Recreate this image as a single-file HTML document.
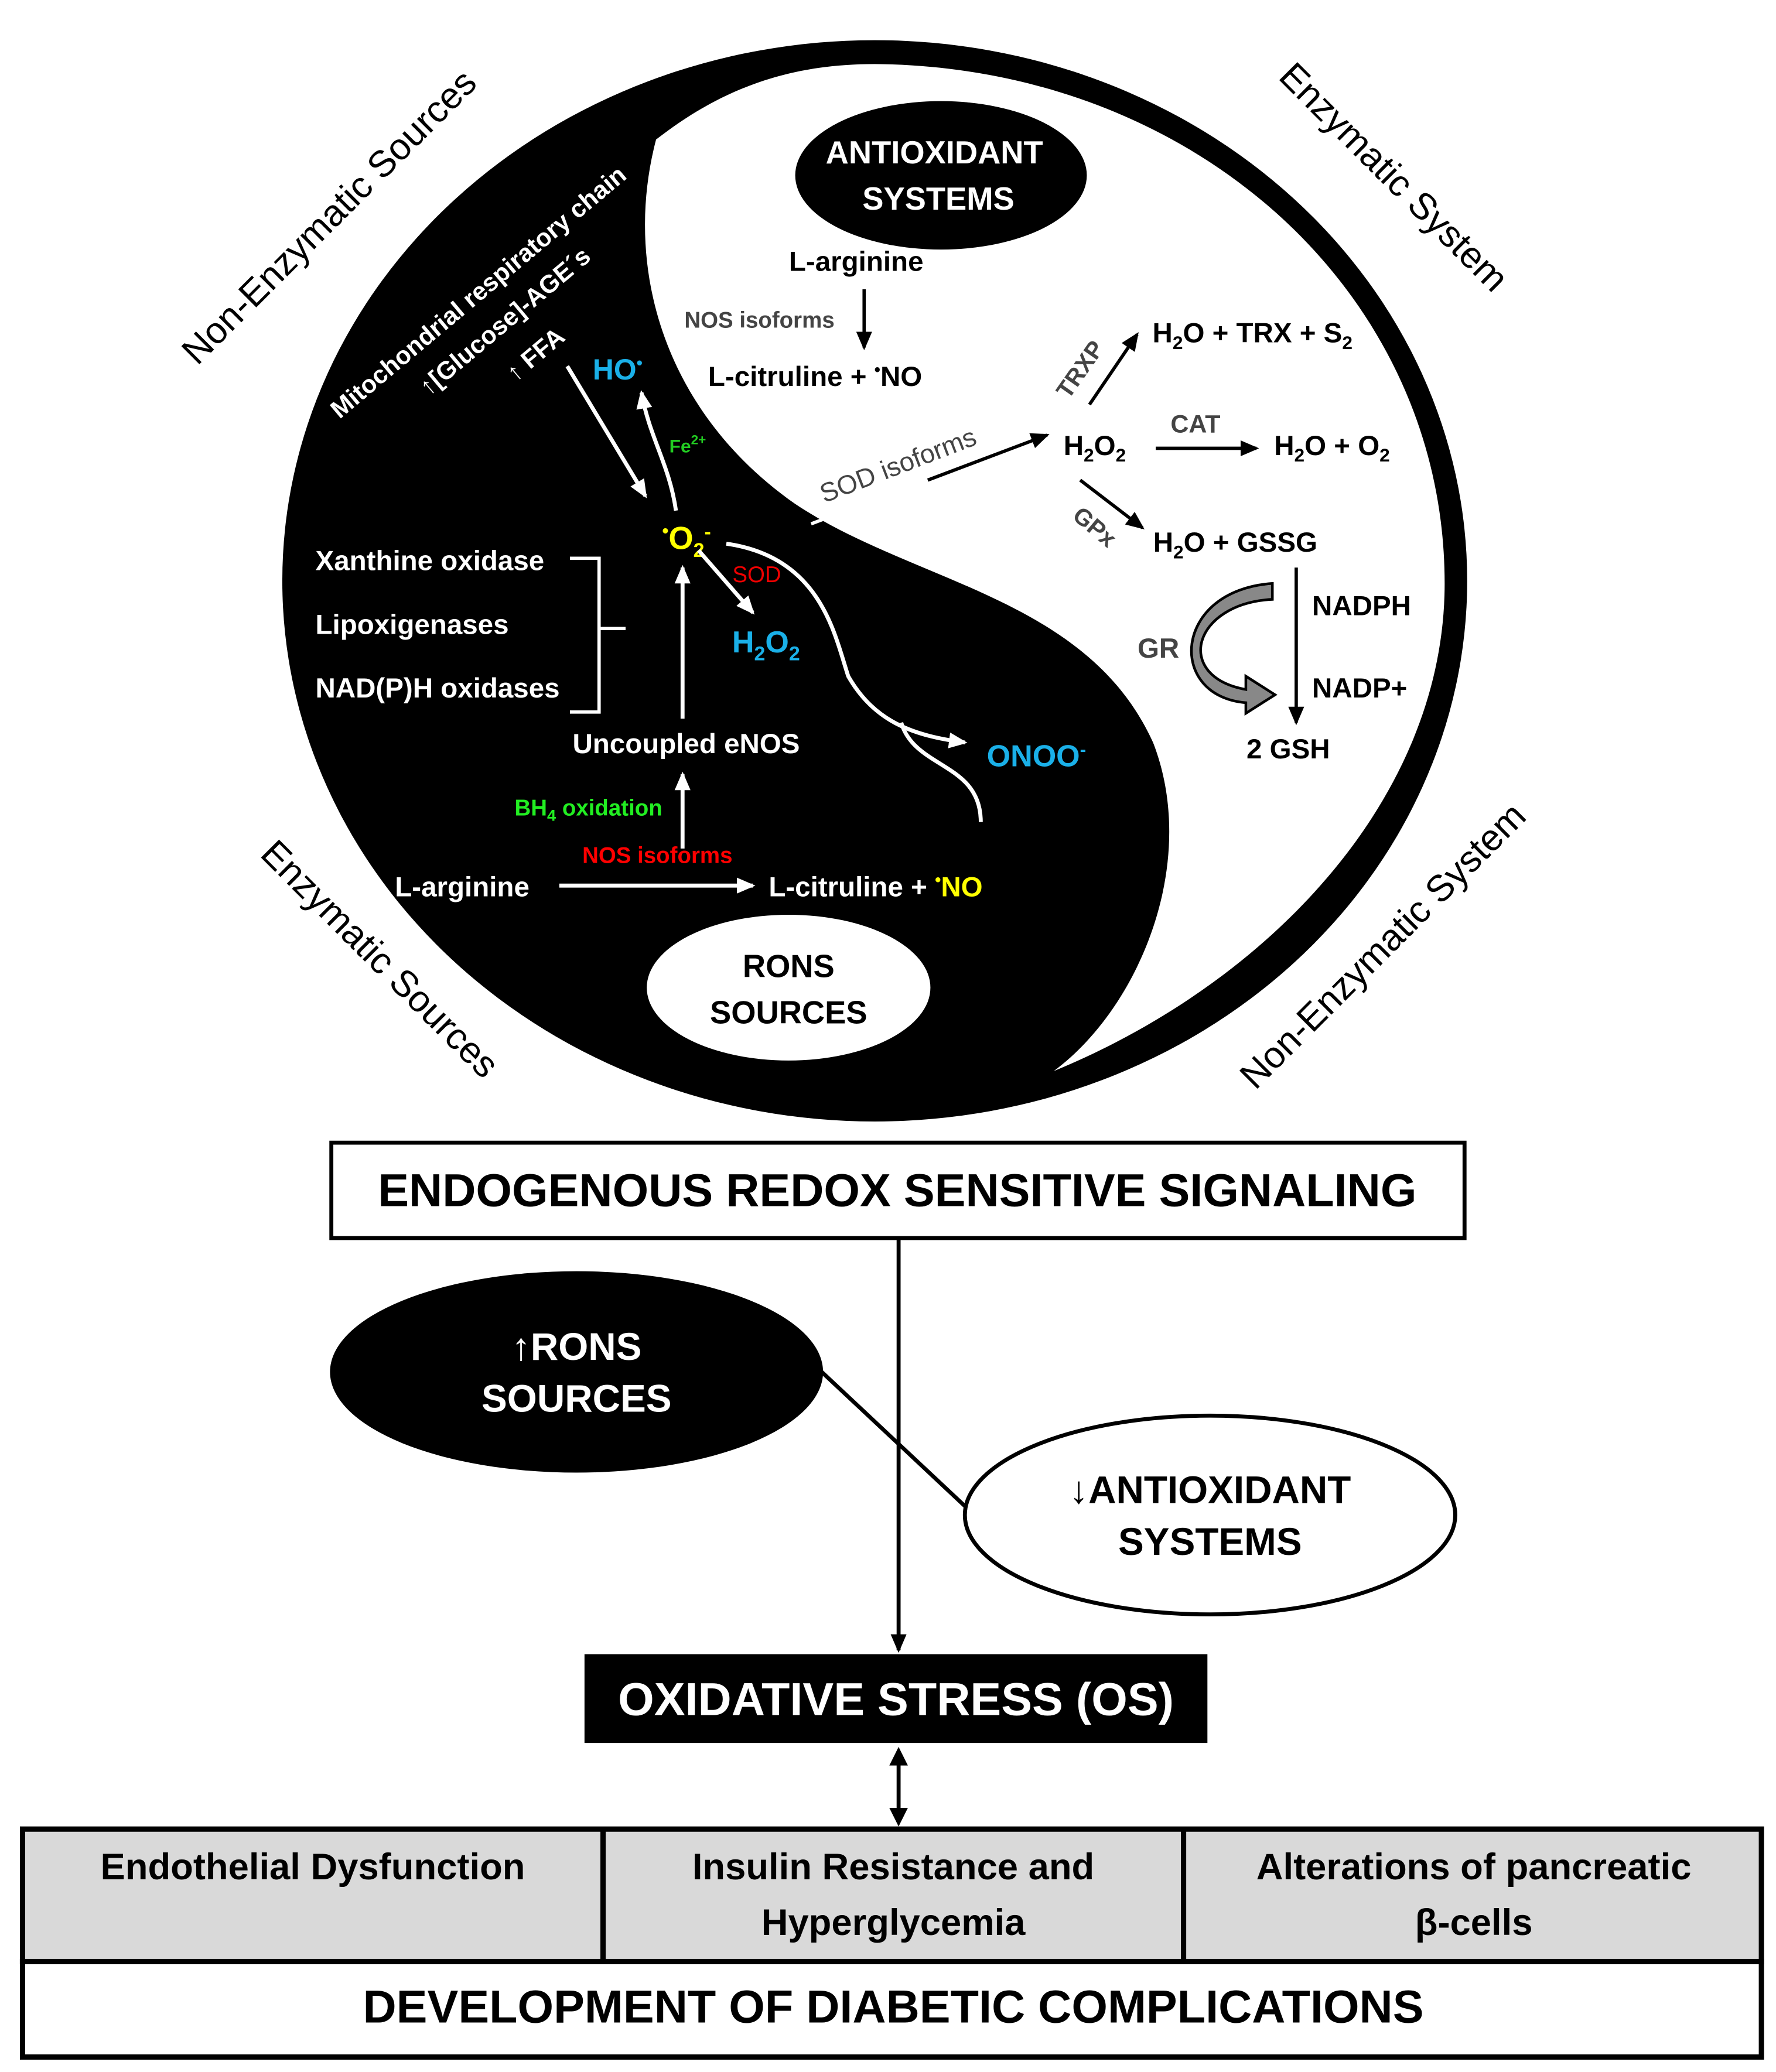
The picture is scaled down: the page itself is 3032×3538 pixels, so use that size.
<!DOCTYPE html>
<html><head><meta charset="utf-8"><style>
html,body{margin:0;padding:0;background:#fff;}
svg{display:block;}
text{font-family:"Liberation Sans",sans-serif;font-weight:bold;}
</style></head><body>
<svg width="3032" height="3538" viewBox="0 0 1340 1563" xmlns="http://www.w3.org/2000/svg">
<defs>
<marker id="ab" markerWidth="14" markerHeight="12" refX="12" refY="6" orient="auto" markerUnits="userSpaceOnUse"><path d="M0,0 L14,6 L0,12 Z" fill="#000"/></marker>
<marker id="aw2" markerWidth="14" markerHeight="12" refX="12" refY="6" orient="auto" markerUnits="userSpaceOnUse"><path d="M0,0 L14,6 L0,12 Z" fill="#fff"/></marker>
</defs>
<rect width="1340" height="1563" fill="#fff"/>
<!-- yin yang -->
<ellipse cx="660" cy="438" rx="447" ry="408" fill="#000"/>
<path d="M495,105 C470,200 500,310 600,380 C690,440 820,450 870,560 C905,650 860,760 795,808 C960,740 1090,600 1090,440 C1090,220 900,50 660,48 C590,48 540,70 495,105 Z" fill="#fff"/>

<!-- rotated outer labels -->
<g font-size="28">
<text x="255" y="170" text-anchor="middle" transform="rotate(-45 255 170)" style="font-weight:normal">Non-Enzymatic Sources</text>
<text x="1045" y="140" text-anchor="middle" transform="rotate(45 1045 140)" style="font-weight:normal">Enzymatic System</text>
<text x="280" y="730" text-anchor="middle" transform="rotate(45 280 730)" style="font-weight:normal">Enzymatic Sources</text>
<text x="1050" y="720" text-anchor="middle" transform="rotate(-45 1050 720)" style="font-weight:normal">Non-Enzymatic System</text>
</g>

<!-- Antioxidant ellipse -->
<ellipse cx="710" cy="132" rx="110" ry="56" fill="#000"/>
<text x="705" y="123" fill="#fff" font-size="24" text-anchor="middle">ANTIOXIDANT</text>
<text x="708" y="158" fill="#fff" font-size="24" text-anchor="middle">SYSTEMS</text>

<text x="646" y="204" font-size="21" text-anchor="middle">L-arginine</text>
<line x1="652" y1="218" x2="652" y2="262" stroke="#000" stroke-width="2.5" marker-end="url(#ab)"/>
<text x="573" y="247" font-size="17" fill="#444" text-anchor="middle">NOS isoforms</text>
<text x="615" y="291" font-size="21" text-anchor="middle">L-citruline + <tspan font-size="13" dy="-8">•</tspan><tspan dy="8">NO</tspan></text>

<!-- SOD isoforms line -->
<line x1="612" y1="395" x2="790" y2="328" stroke="#fff" stroke-width="2.5"/>
<line x1="700" y1="362" x2="790" y2="328" stroke="#000" stroke-width="2.5" marker-end="url(#ab)"/>
<text x="680" y="357" font-size="20" fill="#444" transform="rotate(-21 680 357)" text-anchor="middle" style="font-weight:normal">SOD isoforms</text>

<text x="826" y="343" font-size="21" text-anchor="middle">H<tspan font-size="14" dy="5">2</tspan><tspan dy="-5">O</tspan><tspan font-size="14" dy="5">2</tspan></text>
<line x1="822" y1="305" x2="858" y2="252" stroke="#000" stroke-width="2.5" marker-end="url(#ab)"/>
<text x="820" y="282" font-size="18" fill="#444" transform="rotate(-55 820 282)" text-anchor="middle">TRXP</text>
<text x="945" y="258" font-size="21" text-anchor="middle">H<tspan font-size="14" dy="5">2</tspan><tspan dy="-5">O + TRX + S</tspan><tspan font-size="14" dy="5">2</tspan></text>
<line x1="872" y1="338" x2="948" y2="338" stroke="#000" stroke-width="2.5" marker-end="url(#ab)"/>
<text x="902" y="326" font-size="19" fill="#444" text-anchor="middle">CAT</text>
<text x="1005" y="343" font-size="21" text-anchor="middle">H<tspan font-size="14" dy="5">2</tspan><tspan dy="-5">O + O</tspan><tspan font-size="14" dy="5">2</tspan></text>
<line x1="815" y1="362" x2="862" y2="398" stroke="#000" stroke-width="2.5" marker-end="url(#ab)"/>
<text x="822" y="402" font-size="18" fill="#444" transform="rotate(40 822 402)" text-anchor="middle">GPx</text>
<text x="932" y="416" font-size="21" text-anchor="middle">H<tspan font-size="14" dy="5">2</tspan><tspan dy="-5">O + GSSG</tspan></text>
<line x1="978" y1="428" x2="978" y2="545" stroke="#000" stroke-width="2.5" marker-end="url(#ab)"/>
<text x="990" y="464" font-size="21">NADPH</text>
<text x="990" y="526" font-size="21">NADP+</text>
<text x="972" y="572" font-size="21" text-anchor="middle">2 GSH</text>
<text x="874" y="496" font-size="21" fill="#444" text-anchor="middle">GR</text>
<path d="M960,452 C900,455 885,510 940,520 L940,510 L962,524 L940,538 L940,530 C880,525 885,445 960,440 Z" fill="#888" stroke="#000" stroke-width="2"/>

<!-- black-side texts -->
<g fill="#fff">
<text x="365" y="225" font-size="19" text-anchor="middle" transform="rotate(-40 365 225)">Mitochondrial respiratory chain</text>
<text x="385" y="247" font-size="19" text-anchor="middle" transform="rotate(-40 385 247)">↑[Glucose]-AGE´s</text>
<text x="408" y="272" font-size="19" text-anchor="middle" transform="rotate(-40 408 272)">↑ FFA</text>
<text x="238" y="430" font-size="21">Xanthine oxidase</text>
<text x="238" y="478" font-size="21">Lipoxigenases</text>
<text x="238" y="526" font-size="21">NAD(P)H oxidases</text>
<text x="432" y="568" font-size="21">Uncoupled eNOS</text>
<text x="298" y="676" font-size="21">L-arginine</text>
<text x="580" y="676" font-size="21">L-citruline + <tspan fill="#ff0" font-size="13" dy="-8">•</tspan><tspan fill="#ff0" dy="8">NO</tspan></text>
</g>
<path d="M430,421 H452 V537 H430 M452,474 H472" fill="none" stroke="#fff" stroke-width="2.5"/>
<text x="466" y="286" font-size="22" fill="#1ab0e8" text-anchor="middle">HO<tspan font-size="13" dy="-8">•</tspan></text>
<text x="505" y="341" font-size="14" fill="#2c2">Fe<tspan font-size="10" dy="-6">2+</tspan></text>
<text x="518" y="414" font-size="24" fill="#ff0" text-anchor="middle"><tspan font-size="14" dy="-9">•</tspan><tspan dy="9">O</tspan><tspan font-size="15" dy="6">2</tspan><tspan font-size="15" dy="-14">-</tspan></text>
<text x="571" y="439" font-size="17" fill="#e00" text-anchor="middle" style="font-weight:normal">SOD</text>
<text x="578" y="492" font-size="23" fill="#1ab0e8" text-anchor="middle">H<tspan font-size="15" dy="6">2</tspan><tspan dy="-6">O</tspan><tspan font-size="15" dy="6">2</tspan></text>
<text x="782" y="578" font-size="23" fill="#1ab0e8" text-anchor="middle">ONOO<tspan font-size="14" dy="-8">-</tspan></text>
<text x="444" y="615" font-size="17" fill="#2e2" text-anchor="middle">BH<tspan font-size="12" dy="4">4</tspan><tspan dy="-4"> oxidation</tspan></text>
<text x="496" y="651" font-size="17" fill="#f00" text-anchor="middle">NOS isoforms</text>

<!-- white arrows -->
<g stroke="#fff" stroke-width="3" fill="none">
<line x1="428" y1="276" x2="487" y2="374" marker-end="url(#aw2)"/>
<path d="M510,385 C505,350 490,330 484,296" marker-end="url(#aw2)"/>
<line x1="527" y1="415" x2="568" y2="462" marker-end="url(#aw2)"/>
<line x1="515" y1="542" x2="515" y2="428" marker-end="url(#aw2)"/>
<line x1="515" y1="640" x2="515" y2="584" marker-end="url(#aw2)"/>
<line x1="422" y1="668" x2="568" y2="668" marker-end="url(#aw2)"/>
<path d="M548,410 C620,420 630,480 640,510 C660,545 690,555 728,560" marker-end="url(#aw2)"/>
<path d="M680,545 C690,580 740,575 740,620"/>
</g>

<!-- RONS sources ellipse -->
<ellipse cx="595" cy="745" rx="107" ry="55" fill="#fff"/>
<text x="595" y="737" font-size="24" text-anchor="middle">RONS</text>
<text x="595" y="772" font-size="24" text-anchor="middle">SOURCES</text>

<!-- lower -->
<rect x="250" y="862" width="855" height="72" fill="#fff" stroke="#000" stroke-width="3"/>
<text x="677" y="910" font-size="35" text-anchor="middle">ENDOGENOUS REDOX SENSITIVE SIGNALING</text>
<line x1="678" y1="934" x2="678" y2="1245" stroke="#000" stroke-width="3" marker-end="url(#ab)"/>
<line x1="620" y1="1035" x2="732" y2="1140" stroke="#000" stroke-width="3"/>
<ellipse cx="435" cy="1035" rx="186" ry="76" fill="#000"/>
<text x="435" y="1026" font-size="29" fill="#fff" text-anchor="middle">↑RONS</text>
<text x="435" y="1065" font-size="29" fill="#fff" text-anchor="middle">SOURCES</text>
<ellipse cx="913" cy="1143" rx="185" ry="75" fill="#fff" stroke="#000" stroke-width="3"/>
<text x="913" y="1134" font-size="29" text-anchor="middle">↓ANTIOXIDANT</text>
<text x="913" y="1173" font-size="29" text-anchor="middle">SYSTEMS</text>
<rect x="441" y="1248" width="470" height="67" fill="#000"/>
<text x="676" y="1294" font-size="35" fill="#fff" text-anchor="middle">OXIDATIVE STRESS (OS)</text>
<line x1="678" y1="1330" x2="678" y2="1366" stroke="#000" stroke-width="3"/>
<path d="M678,1318 l-7,14 h14 z" fill="#000"/>
<path d="M678,1378 l-7,-14 h14 z" fill="#000"/>
<rect x="17" y="1380" width="1312" height="100" fill="#d9d9d9" stroke="#000" stroke-width="4"/>
<line x1="455" y1="1380" x2="455" y2="1480" stroke="#000" stroke-width="4"/>
<line x1="893" y1="1380" x2="893" y2="1480" stroke="#000" stroke-width="4"/>
<rect x="17" y="1480" width="1312" height="72" fill="#fff" stroke="#000" stroke-width="4"/>
<text x="236" y="1418" font-size="28" text-anchor="middle">Endothelial Dysfunction</text>
<text x="674" y="1418" font-size="28" text-anchor="middle">Insulin Resistance and</text>
<text x="674" y="1460" font-size="28" text-anchor="middle">Hyperglycemia</text>
<text x="1112" y="1418" font-size="28" text-anchor="middle">Alterations of pancreatic</text>
<text x="1112" y="1460" font-size="28" text-anchor="middle">β-cells</text>
<text x="674" y="1526" font-size="35" text-anchor="middle">DEVELOPMENT OF DIABETIC COMPLICATIONS</text>
</svg>
</body></html>
